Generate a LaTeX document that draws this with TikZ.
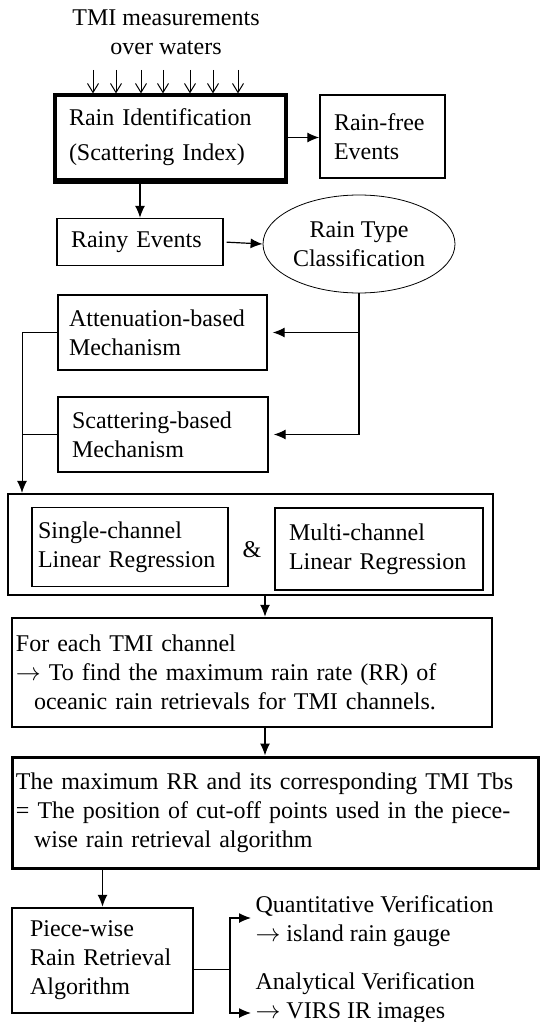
\documentclass[tikz,border=0pt]{standalone}
\usepackage{fontspec}
\setmainfont{Liberation Serif}
\usetikzlibrary{shapes.geometric,arrows.meta}

\tikzset{
    blk/.style={draw, rectangle, align=left, inner xsep=14pt, inner ysep=0pt, line width=1.4pt},
    oval/.style={draw, ellipse, align=center, inner sep=0pt, line width=0.8pt},
    lbl/.style={anchor=west, align=left, inner sep=0pt},
    >={Latex[length=12pt,width=10pt]}
}

\begin{document}
\begin{tikzpicture}[x=1pt, y=-1pt, font=\fontsize{24}{29}\selectfont, line width=1.2pt]
        \useasboundingbox (0,0) rectangle (540,1022);
        \node[align=center, inner sep=0pt] (tmi) at (166,32) {TMI measurements\\over waters};
        \node[blk, line width=3.2pt, text width=203pt, minimum height=85pt] (rainid) at (170.5,137.5) {Rain Identification\\[6pt](Scattering Index)};
        \draw[line width=4.5pt] (rainid.south west) -- (rainid.south east);
        \foreach \x in {93,116,141,163,190,213,238}
            \draw[-{Straight Barb[length=9pt,width=11pt]}, line width=1pt] (\x,70) -- (\x,70 |- rainid.north);
        \node[blk, text width=97pt, minimum height=83pt] (rainfree) at (382.5,136.5) {Rain-free\\Events};
        \node[blk, text width=138pt, minimum height=47pt] (rainy) at (140,242) {Rainy Events};
        \node[oval, minimum width=192pt, minimum height=98pt] (raintype) at (359,244) {Rain Type\\Classification};
        \node[blk, inner xsep=11pt, text width=187pt, minimum height=75pt] (atten) at (162.5,332.5) {Attenuation-based\\Mechanism};
        \node[blk, text width=182pt, minimum height=75pt] (scatter) at (163,434.5) {Scattering-based\\Mechanism};
        \node[blk, line width=2.5pt, minimum width=485pt, minimum height=101pt] (regr) at (250.5,544.5) {};
        \node[blk, inner xsep=6pt, text width=184pt, minimum height=79pt] (single) at (130,547) {Single-channel\\Linear Regression};
        \node[inner sep=0pt] (amp) at (252,550) {\&};
        \node[blk, text width=180pt, minimum height=82pt] (multi) at (379,549) {Multi-channel\\Linear Regression};
        \node[blk, line width=2.5pt, inner xsep=4pt, text width=472pt, minimum height=109pt] (foreach) at (252,672.5) {For each TMI channel\\$\rightarrow$ To find the maximum rain rate (RR) of\\\hspace*{0.75em}oceanic rain retrievals for TMI channels.};
        \node[blk, line width=3pt, inner xsep=4pt, text width=518pt, minimum height=111pt] (maxrr) at (275,812.5) {The maximum RR and its corresponding TMI Tbs\\= The position of cut-off points used in the piece-\\\hspace*{0.75em}wise rain retrieval algorithm};
        \node[blk, line width=2.5pt, inner xsep=18pt, text width=145pt, minimum height=105pt] (piece) at (102.5,960.5) {Piece-wise\\Rain Retrieval\\Algorithm};
        \node[lbl] (quant) at (255,921) {Quantitative Verification\\$\rightarrow$ island rain gauge};
        \node[lbl] (anal) at (255,998) {Analytical Verification\\$\rightarrow$ VIRS IR images};
        \coordinate (drop) at (22,0);
        \coordinate (mid) at (265,0);
        \coordinate (fork) at (230,0);
        \coordinate (qin) at (251,918);
        \coordinate (ain) at (251,1013);
        \draw[->] (rainid.east) -- (rainid.east -| rainfree.west);
        \draw[->] ([yshift=-2pt]rainy.north |- rainid.south) -- (rainy.north);
        \draw[->, shorten <=3pt] (rainy.east) -- (raintype.west);
        \draw (raintype.south) -- (raintype.south |- scatter.east);
        \draw[->, shorten >=5pt] (raintype.south |- atten.east) -- (atten.east);
        \draw[->, shorten >=5pt] (raintype.south |- scatter.east) -- (scatter.east);
        \draw[->, line width=0.8pt] (atten.west) -- (atten.west -| drop) -- (drop |- regr.north);
        \draw[line width=0.8pt] (scatter.west) -- (scatter.west -| drop);
        \draw[->] (regr.south -| mid) -- (foreach.north -| mid);
        \draw[->] (foreach.south -| mid) -- (maxrr.north -| mid);
        \draw[->] (maxrr.south -| piece) -- (piece.north);
        \draw[->] ([yshift=-9pt]piece.east) -| (fork |- qin) -- (qin);
        \draw[->] ([yshift=-9pt]piece.east -| fork) |- (ain);
    \end{tikzpicture}
\end{document}
